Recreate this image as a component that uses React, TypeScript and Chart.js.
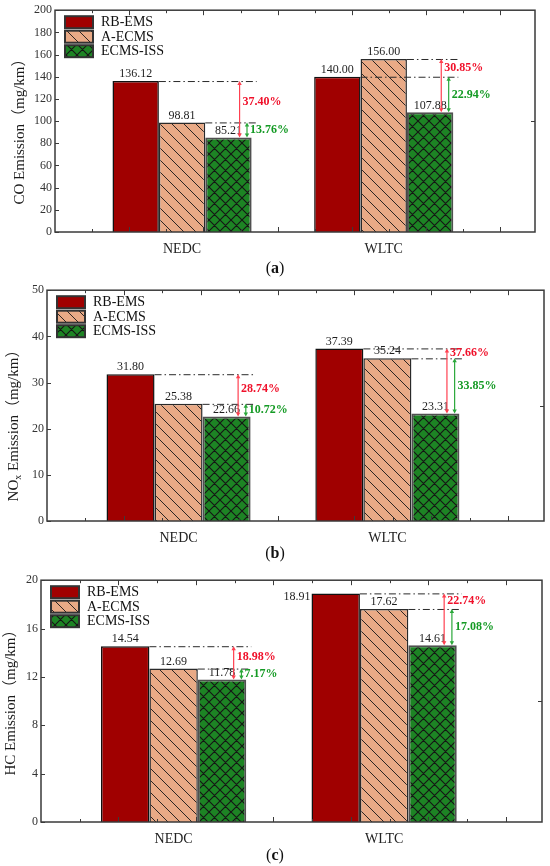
import { useEffect, useRef } from "react";
import { Chart, registerables, type Plugin } from "chart.js";

Chart.register(...registerables);

// ---- data ----
const cycles = ["NEDC", "WLTC"];
const strategies = ["RB-EMS", "A-ECMS", "ECMS-ISS"];

const coRB = [136.12, 140.0];
const coA = [98.81, 156.0];
const coISS = [85.21, 107.88];
const coRedPct = ["37.40%", "30.85%"];
const coGreenPct = ["13.76%", "22.94%"];

const noxRB = [31.8, 37.39];
const noxA = [25.38, 35.24];
const noxISS = [22.66, 23.31];
const noxRedPct = ["28.74%", "37.66%"];
const noxGreenPct = ["10.72%", "33.85%"];

const hcRB = [14.54, 18.91];
const hcA = [12.69, 17.62];
const hcISS = [11.78, 14.61];
const hcRedPct = ["18.98%", "22.74%"];
const hcGreenPct = ["7.17%", "17.08%"];

// ---- styles ----
const SERIF = "'Liberation Serif', 'Noto Sans CJK SC', serif";
const RED = "#a00000";
const SALMON = "#e9aa86";
const GREEN = "#1d8424";
const BORDERS = ["#111111", "#2a2a2a", "#505050"];
const BORDER_W = [1.5, 1.5, 2];
const RED_ARROW = "#ff4050";
const RED_TEXT = "#f0102a";
const GREEN_ARROW = "#2aa83a";
const GREEN_TEXT = "#149a24";

type Seg = [string, boolean];

type PanelSpec = {
  top: number;
  height: number;
  series: number[][];
  redPct: string[];
  greenPct: string[];
  yMax: number;
  yStep: number;
  title: Seg[];
  titleX: number;
  titleY: number;
  area: { left: number; right: number; top: number; bottom: number };
  caption: string;
  captionY: number;
};

const panels: PanelSpec[] = [
  {
    top: 0,
    height: 262,
    series: [coRB, coA, coISS],
    redPct: coRedPct,
    greenPct: coGreenPct,
    yMax: 200,
    yStep: 20,
    title: [["CO Emission（mg/km）", false]],
    titleX: 20,
    titleY: 128,
    area: { left: 55, right: 535, top: 8, bottom: 232 },
    caption: "a",
    captionY: 268,
  },
  {
    top: 280,
    height: 270,
    series: [noxRB, noxA, noxISS],
    redPct: noxRedPct,
    greenPct: noxGreenPct,
    yMax: 50,
    yStep: 10,
    title: [["NO", false], ["x", true], [" Emission（mg/km）", false]],
    titleX: 14,
    titleY: 142,
    area: { left: 47, right: 544, top: 8, bottom: 241 },
    caption: "b",
    captionY: 553,
  },
  {
    top: 570,
    height: 280,
    series: [hcRB, hcA, hcISS],
    redPct: hcRedPct,
    greenPct: hcGreenPct,
    yMax: 20,
    yStep: 4,
    title: [["HC Emission（mg/km）", false]],
    titleX: 11,
    titleY: 129,
    area: { left: 41, right: 542, top: 9, bottom: 252 },
    caption: "c",
    captionY: 855,
  },
];

const X_MIN = 0.37;
const X_MAX = 2.75;
const Y_AXIS_W = 30;
const X_AXIS_H = 24;

function hatch(ctx: CanvasRenderingContext2D, base: string, size: number, cross: boolean) {
  const tile = document.createElement("canvas");
  tile.width = size;
  tile.height = size;
  const g = tile.getContext("2d")!;
  g.fillStyle = base;
  g.fillRect(0, 0, size, size);
  g.strokeStyle = "#161616";
  g.lineWidth = cross ? 1.1 : 0.9;
  g.beginPath();
  for (const k of [-1, 0, 1]) {
    g.moveTo(k * size, 0);
    g.lineTo(k * size + size, size);
    if (cross) {
      g.moveTo(k * size + size, 0);
      g.lineTo(k * size, size);
    }
  }
  g.stroke();
  return ctx.createPattern(tile, "repeat")!;
}

function arrow(ctx: CanvasRenderingContext2D, x: number, y1: number, y2: number, color: string) {
  const h = 4;
  ctx.strokeStyle = color;
  ctx.fillStyle = color;
  ctx.lineWidth = 1.2;
  ctx.setLineDash([]);
  ctx.beginPath();
  ctx.moveTo(x, y1 + h - 1);
  ctx.lineTo(x, y2 - h + 1);
  ctx.stroke();
  ctx.beginPath();
  ctx.moveTo(x, y1);
  ctx.lineTo(x - 2.2, y1 + h);
  ctx.lineTo(x + 2.2, y1 + h);
  ctx.closePath();
  ctx.moveTo(x, y2);
  ctx.lineTo(x - 2.2, y2 - h);
  ctx.lineTo(x + 2.2, y2 - h);
  ctx.closePath();
  ctx.fill();
}

function dashDot(ctx: CanvasRenderingContext2D, x1: number, x2: number, y: number) {
  ctx.strokeStyle = "#2a2a2a";
  ctx.lineWidth = 1;
  ctx.setLineDash([7, 3, 1.5, 3]);
  ctx.beginPath();
  ctx.moveTo(x1, y + 0.5);
  ctx.lineTo(x2, y + 0.5);
  ctx.stroke();
  ctx.setLineDash([]);
}

function Panel({ spec }: { spec: PanelSpec }) {
  const canvasRef = useRef<HTMLCanvasElement | null>(null);

  useEffect(() => {
    const canvas = canvasRef.current;
    if (!canvas) return;
    const c2d = canvas.getContext("2d")!;
    const fills: (string | CanvasPattern)[] = [RED, hatch(c2d, SALMON, 12, false), hatch(c2d, GREEN, 11, true)];

    const decor: Plugin<"bar"> = {
      id: "decor",
      afterDraw(chart) {
        const { ctx, chartArea: a } = chart;
        const xs = chart.scales.x;
        const ys = chart.scales.y;
        const metas = strategies.map((_, d) => chart.getDatasetMeta(d));
        const bar = (d: number, i: number) => metas[d].data[i] as unknown as { x: number; y: number; width: number };
        ctx.save();

        // value labels
        ctx.font = `12px ${SERIF}`;
        ctx.fillStyle = "#1e1e1e";
        strategies.forEach((_, d) => {
          cycles.forEach((__, i) => {
            const b = bar(d, i);
            const txt = spec.series[d][i].toFixed(2);
            if (b.y - 15 < a.top) {
              ctx.textAlign = "right";
              ctx.textBaseline = "middle";
              ctx.fillText(txt, b.x - b.width / 2 - 1, b.y + 3);
            } else {
              ctx.textAlign = "center";
              ctx.textBaseline = "bottom";
              ctx.fillText(txt, b.x, b.y - 1);
            }
          });
        });

        // reduction markers
        cycles.forEach((_, i) => {
          const hi = spec.series[0][i] >= spec.series[1][i] ? 0 : 1;
          const lo = 1 - hi;
          const iss = bar(2, i);
          const issL = iss.x - iss.width / 2;
          const issR = iss.x + iss.width / 2;
          const hb = bar(hi, i);
          const lb = bar(lo, i);
          dashDot(ctx, hb.x + hb.width / 2, issR + 5, hb.y);
          dashDot(ctx, lb.x + lb.width / 2, issR + 5, lb.y);
          const rx = issL + iss.width * 0.74;
          const gx = issL + iss.width * 0.9;
          arrow(ctx, rx, hb.y, iss.y, RED_ARROW);
          arrow(ctx, gx, lb.y, iss.y, GREEN_ARROW);
          ctx.font = `bold 12px ${SERIF}`;
          ctx.textAlign = "left";
          ctx.textBaseline = "middle";
          ctx.fillStyle = RED_TEXT;
          ctx.fillText(spec.redPct[i], rx + 3, (hb.y + lb.y) / 2);
          ctx.fillStyle = GREEN_TEXT;
          ctx.fillText(spec.greenPct[i], gx + 3, (lb.y + iss.y) / 2);
        });

        // frame and inward ticks
        ctx.strokeStyle = "#3a3a3a";
        ctx.lineWidth = 1.5;
        ctx.strokeRect(a.left, a.top, a.right - a.left, a.bottom - a.top);
        ctx.lineWidth = 1;
        ctx.beginPath();
        ys.ticks.forEach((t) => {
          const py = Math.round(ys.getPixelForValue(t.value)) + 0.5;
          ctx.moveTo(a.left, py);
          ctx.lineTo(a.left + 4, py);
        });
        const my = Math.round(ys.getPixelForValue(spec.yMax / 2)) + 0.5;
        ctx.moveTo(a.right, my);
        ctx.lineTo(a.right - 4, my);
        const step = 0.184;
        let k = 0;
        for (let v = X_MIN + step; v < X_MAX - 0.02; v += step, k++) {
          const px = Math.round(xs.getPixelForValue(v)) + 0.5;
          const len = k % 2 === 0 ? 3 : 5;
          ctx.moveTo(px, a.bottom);
          ctx.lineTo(px, a.bottom - len);
          ctx.moveTo(px, a.top);
          ctx.lineTo(px, a.top + len);
        }
        ctx.stroke();

        // legend
        strategies.forEach((name, d) => {
          const bx = a.left + 10;
          const by = a.top + 6 + d * 14.5;
          ctx.fillStyle = fills[d];
          ctx.fillRect(bx, by, 28, 12);
          ctx.strokeStyle = "#333";
          ctx.lineWidth = 2;
          ctx.strokeRect(bx, by, 28, 12);
          ctx.fillStyle = "#111";
          ctx.font = `14px ${SERIF}`;
          ctx.textAlign = "left";
          ctx.textBaseline = "middle";
          ctx.fillText(name, bx + 36, by + 6.5);
        });

        // y-axis title
        ctx.translate(spec.titleX, spec.titleY);
        ctx.rotate(-Math.PI / 2);
        const mainFont = `15px ${SERIF}`;
        const subFont = `10px ${SERIF}`;
        let total = 0;
        spec.title.forEach(([t, sub]) => {
          ctx.font = sub ? subFont : mainFont;
          total += ctx.measureText(t).width;
        });
        let tx = -total / 2;
        ctx.fillStyle = "#1a1a1a";
        ctx.textAlign = "left";
        ctx.textBaseline = "middle";
        spec.title.forEach(([t, sub]) => {
          ctx.font = sub ? subFont : mainFont;
          ctx.fillText(t, tx, sub ? 4 : 0);
          tx += ctx.measureText(t).width;
        });
        ctx.restore();
      },
    };

    const chart = new Chart(canvas, {
      type: "bar",
      data: {
        datasets: strategies.map((name, d) => ({
          label: name,
          data: spec.series[d].map((v, i) => ({ x: i + 1, y: v })),
          backgroundColor: fills[d],
          borderColor: BORDERS[d],
          borderWidth: BORDER_W[d],
          categoryPercentage: 0.69,
          barPercentage: 1,
        })),
      },
      options: {
        responsive: false,
        maintainAspectRatio: false,
        animation: false,
        layout: {
          padding: {
            left: spec.area.left - Y_AXIS_W,
            right: 550 - spec.area.right,
            top: spec.area.top,
            bottom: spec.height - spec.area.bottom - X_AXIS_H,
          },
        },
        plugins: { legend: { display: false }, tooltip: { enabled: false } },
        scales: {
          x: {
            type: "linear",
            min: X_MIN,
            max: X_MAX,
            offset: false,
            bounds: "data",
            grid: { display: false, drawTicks: false, offset: false },
            border: { display: false },
            afterBuildTicks: (axis) => {
              axis.ticks = cycles.map((_, i) => ({ value: i + 1 }));
            },
            afterFit: (axis) => {
              axis.height = X_AXIS_H;
            },
            ticks: {
              autoSkip: false,
              maxRotation: 0,
              padding: 9,
              color: "#222",
              font: { family: SERIF, size: 14 },
              callback: (_v, i) => cycles[i] ?? "",
            },
          },
          y: {
            min: 0,
            max: spec.yMax,
            grid: { display: false, drawTicks: false },
            border: { display: false },
            afterFit: (axis) => {
              axis.width = Y_AXIS_W;
            },
            ticks: {
              stepSize: spec.yStep,
              padding: 3,
              color: "#333",
              font: { family: SERIF, size: 12 },
            },
          },
        },
      },
      plugins: [decor],
    });

    return () => {
      chart.destroy();
    };
  }, [spec]);

  return (
    <>
      <canvas
        ref={canvasRef}
        width={550}
        height={spec.height}
        style={{ position: "absolute", left: 0, top: spec.top, width: 550, height: spec.height }}
      />
      <div
        style={{
          position: "absolute",
          left: 0,
          width: 550,
          top: spec.captionY - 10,
          textAlign: "center",
          fontFamily: SERIF,
          fontSize: 16,
          lineHeight: "20px",
          color: "#111",
        }}
      >
        (<b>{spec.caption}</b>)
      </div>
    </>
  );
}

export default function App() {
  return (
    <div style={{ position: "absolute", left: 0, top: 0, width: 550, height: 866, background: "#fff" }}>
      {panels.map((p) => (
        <Panel key={p.caption} spec={p} />
      ))}
    </div>
  );
}
